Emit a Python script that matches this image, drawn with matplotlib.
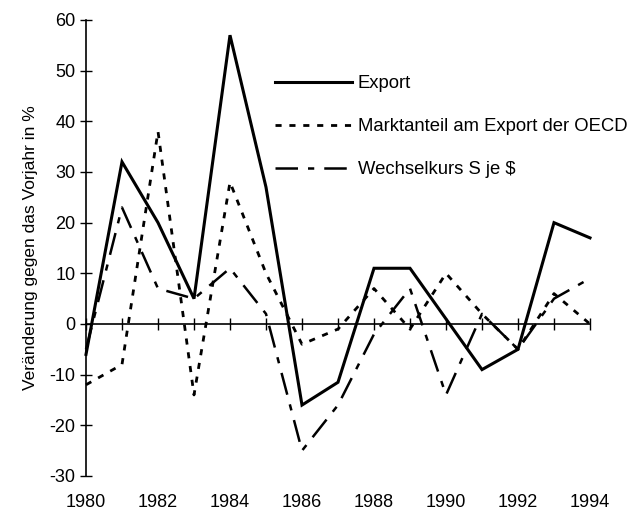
import matplotlib.pyplot as plt

plt.rcParams['font.family'] = ['Liberation Sans', 'DejaVu Sans']
plt.rcParams['axes.unicode_minus'] = False

# Jahre und Werte (Veränderung gegen Vorjahr in %)
jahre = list(range(1980, 1995))
export = [-6, 32, 20, 5, 57, 27, -16, -11.5, 11, 11, 1, -9, -5, 20, 17]
marktanteil = [-12, -8, 38, -14, 28, 10, -4, -1, 7, -1, 10, 2, -5, 6, 0]
wechselkurs = [-5, 23, 7, 5, 11, 2, -25, -16, -2, 7, -14, 2, -5, 5, 9]

x_labels = ['1980', '1982', '1984', '1986', '1988', '1990', '1992', '1994']
y_ticks = [-30, -20, -10, 0, 10, 20, 30, 40, 50, 60]

fig = plt.figure(figsize=(6.39, 5.13), dpi=100)
ax = fig.add_axes([86 / 639, 1 - 476 / 513, (590 - 86) / 639, (476 - 20) / 513])

ax.plot(jahre, export, color='black', lw=2.2, label='Export',
        solid_joinstyle='miter', clip_on=False)
ax.plot(jahre, marktanteil, color='black', lw=2, linestyle=(0, (2.2, 2.8)),
        label='Marktanteil am Export der OECD', clip_on=False)
ax.plot(jahre, wechselkurs, color='black', lw=1.8, linestyle=(0, (9, 4, 2.5, 4)),
        label='Wechselkurs S je $', clip_on=False)

ax.set_xlim(1980, 1994)
ax.set_ylim(-30, 60)

# Achsen: links und Nulllinie
ax.spines['top'].set_visible(False)
ax.spines['right'].set_visible(False)
ax.spines['bottom'].set_position(('data', 0))
ax.spines['left'].set_linewidth(1.2)
ax.spines['bottom'].set_linewidth(1.2)

ax.set_yticks(y_ticks)
ax.set_xticks(jahre)
ax.tick_params(axis='y', direction='inout', length=9, width=1, labelsize=13, pad=3)
ax.tick_params(axis='x', direction='inout', length=9, width=1, labelbottom=False)

# Jahreszahlen unten am Rand
for lab in x_labels:
    ax.text(int(lab), -0.04, lab, transform=ax.get_xaxis_transform(),
            ha='center', va='top', fontsize=13)

ax.set_ylabel('Veränderung gegen das Vorjahr in %', fontsize=12.5, labelpad=8)

ax.legend(loc='upper left', bbox_to_anchor=(0.36, 0.895), frameon=False,
          fontsize=13.3, handlelength=4.2, handletextpad=0.3, labelspacing=1.4,
          borderaxespad=0)

fig.savefig('out.png', dpi=100)
